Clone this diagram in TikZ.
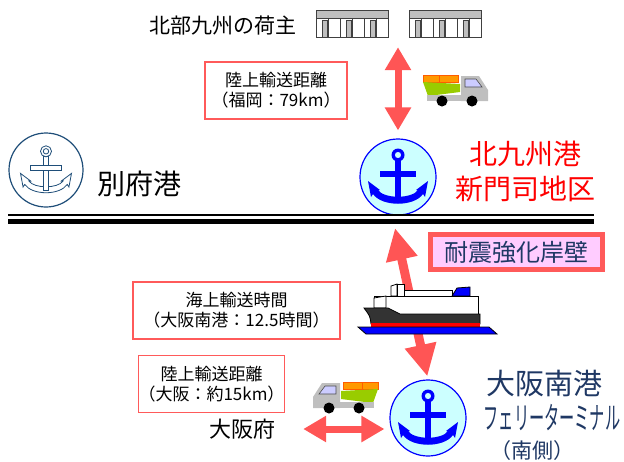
\documentclass[tikz,border=0pt]{standalone}
\usepackage{fontspec}
\setmainfont{Noto Sans CJK JP}
\usetikzlibrary{arrows.meta,calc}

\definecolor{arrowred}{RGB}{255,85,85}
\definecolor{boxred}{RGB}{255,90,90}
\definecolor{portcyan}{RGB}{204,255,255}
\definecolor{quaypink}{RGB}{255,204,255}
\definecolor{portnavy}{RGB}{31,56,100}
\definecolor{beppublue}{RGB}{31,78,121}
\definecolor{roofgray}{RGB}{191,191,191}
\definecolor{cargo}{RGB}{255,153,0}
\definecolor{bedgreen}{RGB}{153,204,0}
\definecolor{cabgray}{RGB}{191,191,191}
\definecolor{windowblue}{RGB}{204,204,255}
\definecolor{hullgray}{RGB}{51,51,51}

\newcommand{\fs}[2]{\fontsize{#1}{#2}\selectfont}

% anchor drawn round the origin, #1 = fill/draw options
\newcommand{\anchorsign}[1]{%
  \path[#1] (-30,4) -- (-18,13) -- (-20,13)
    .. controls (-14,22) and (14,22) .. (20,13)
    -- (18,13) -- (30,4) -- (27,20) -- (25,17)
    .. controls (16,30) and (-16,30) .. (-25,17)
    -- (-27,20) -- cycle;
  \path[#1] (-2.8,-16) rectangle (2.8,24);
  \path[#1] (-18,-6) rectangle (18,0);
  \path[#1,even odd rule] (0,-22) circle (6.5) (0,-22) circle (3.2);
}

% small lorry, cab to the right
\newcommand{\truck}{%
  \filldraw[fill=cargo,draw=cargo!60!red,line width=0.6pt]
    (8,10) rectangle (24,17) (24,10) rectangle (43,17);
  \fill[bedgreen] (8,17) -- (45,19) -- (45,27) -- (13,31) -- cycle;
  \fill[cabgray] (12,30) rectangle (73,36);
  \fill[cabgray] (46,11) -- (64,11) -- (73,25) -- (73,36) -- (46,36) -- cycle;
  \filldraw[fill=windowblue,draw=black!70,line width=0.6pt]
    (50,14) -- (61,14) -- (67,22) -- (50,22) -- cycle;
  \fill (27,36) circle (5.5) (57,36) circle (5.5);
}

\tikzset{
  bigarrow/.style={draw=arrowred, line width=7pt,
    arrows={Triangle[width=25pt,length=23pt]-Triangle[width=25pt,length=23pt]}},
  infobox/.style={draw=boxred, line width=1.5pt, align=center, inner sep=0pt,
    font=\fs{17}{20}},
  quaybox/.style={draw=boxred, fill=quaypink, line width=4.5pt, text=portnavy,
    minimum width=172pt, minimum height=35pt, inner sep=0pt, font=\fs{24}{24}},
  port/.style={circle, minimum size=76pt, inner sep=0pt, line width=1.2pt},
  bldg/.style={minimum width=72pt, minimum height=27pt, inner sep=0pt},
  label/.style={inner sep=1pt},
}

\begin{document}
\begin{tikzpicture}[x=1pt,y=-1pt]
\useasboundingbox (0,0) rectangle (624,461);

% shippers
\node[label, font=\fs{21}{21}] (shipper) at (223,26) {北部九州の荷主};
\node[bldg] (bldgA) at (353,24.5) {};
\node[bldg] (bldgB) at (445.5,24.5) {};
\foreach \b in {bldgA,bldgB} {
  \begin{scope}[shift={(\b.north west)}, draw=black!75, line width=1pt]
    \filldraw[fill=white] (0,0) rectangle (72,27);
    \filldraw[fill=roofgray] (0,0) rectangle (72,8);
    \foreach \p in {6,30,54}
      \filldraw[fill=roofgray] (\p,10) rectangle (\p+5,27);
    \foreach \l in {12,24,36,48,60}
      \draw (\l,8) -- (\l,27);
  \end{scope}
}

\node[infobox, minimum width=142pt, minimum height=57pt] (landN) at (276,90.5)
  {陸上輸送距離\\（福岡：79km）};
\begin{scope}[shift={(415,65)}]
  \truck
\end{scope}

% Kitakyushu port
\node[port, draw=blue, fill=portcyan] (kita) at (398,177) {};
\begin{scope}[shift={(kita.center)}]
  \anchorsign{fill=blue}
\end{scope}
\node[label, text=red, font=\fs{28}{35}, align=center] (kitaname) at (525,171)
  {北九州港\\新門司地区};

% Beppu port
\node[port, draw=beppublue, fill=white, minimum size=74pt] (beppu) at (46,170) {};
\begin{scope}[shift={(beppu.center)}, scale=0.85]
  \anchorsign{fill=white, draw=beppublue, line width=0.8pt}
\end{scope}
\node[label, font=\fs{28}{28}] (beppuname) at (139,184) {別府港};

% coast line
\draw[line width=1.5pt] (8,215) -- (594,215);
\draw[line width=5pt] (8,221.5) -- (594,221.5);

\node[quaybox] (quay) at (516.5,252) {耐震強化岸壁};

\node[infobox, minimum width=207pt, minimum height=57pt] (seabox) at (236.5,310.5)
  {海上輸送時間\\（大阪南港：12.5時間）};
\node[infobox, minimum width=141pt, minimum height=57pt] (landS) at (211.5,384)
  {陸上輸送距離\\（大阪：約15km）};
\begin{scope}[shift={(386,372)}, xscale=-1]
  \truck
\end{scope}
\node[label, font=\fs{22}{22}] (osakafu) at (242,429) {大阪府};

% Osaka port
\node[port, draw=blue, fill=portcyan] (osaka) at (428,418) {};
\begin{scope}[shift={(osaka.center)}]
  \anchorsign{fill=blue}
\end{scope}
\node[label, text=portnavy, font=\fs{29}{29}] (osakaname) at (544,383) {大阪南港};
\node[label, text=portnavy, font=\fs{31}{31}] (terminal) at (552,418)
  {\scalebox{0.49}[1]{フェリーターミナル}};
\node[label, text=portnavy, font=\fs{21}{21}] (southside) at (532,451) {（南側）};

% transport arrows
\coordinate (berth) at (395,228);
\draw[bigarrow, shorten <=9pt, shorten >=8pt] (kita.north |- bldgA.south) -- (kita.north);
\draw[bigarrow, line width=9pt,
  arrows={Triangle[width=30pt,length=32pt]-Triangle[width=30pt,length=32pt]},
  shorten >=3pt] (berth) -- (osaka.north);
\draw[bigarrow, shorten <=27pt, shorten >=5pt] (osakafu.east) -- (osakafu.east -| osaka.west);

% ferry
\begin{scope}[line width=0.8pt]
  \filldraw[fill=white] (404,290) rectangle (452,296);
  \filldraw[fill=blue] (452,296) -- (457,288) -- (470,287) -- (470,296) -- cycle;
  \filldraw[fill=white] (391,286) -- (397,284) -- (397,296) -- (391,296) -- cycle;
  \filldraw[fill=white] (397,284) -- (404,284) -- (404,296) -- (397,296) -- cycle;
  \filldraw[fill=white] (374,296) rectangle (478,314);
  \filldraw[fill=white] (374,298) -- (386,296) -- (386,308) -- (374,308) -- cycle;
  \filldraw[fill=hullgray] (364,308) -- (388,308) -- (400,314) -- (480,314)
    -- (480,324) -- (371,324) .. controls (370,316) .. (364,308) -- cycle;
  \fill[red] (371,323) rectangle (480,327);
  \filldraw[fill=blue] (358,327) -- (489,327) -- (497,334) -- (366,334) -- cycle;
\end{scope}
\end{tikzpicture}
\end{document}
